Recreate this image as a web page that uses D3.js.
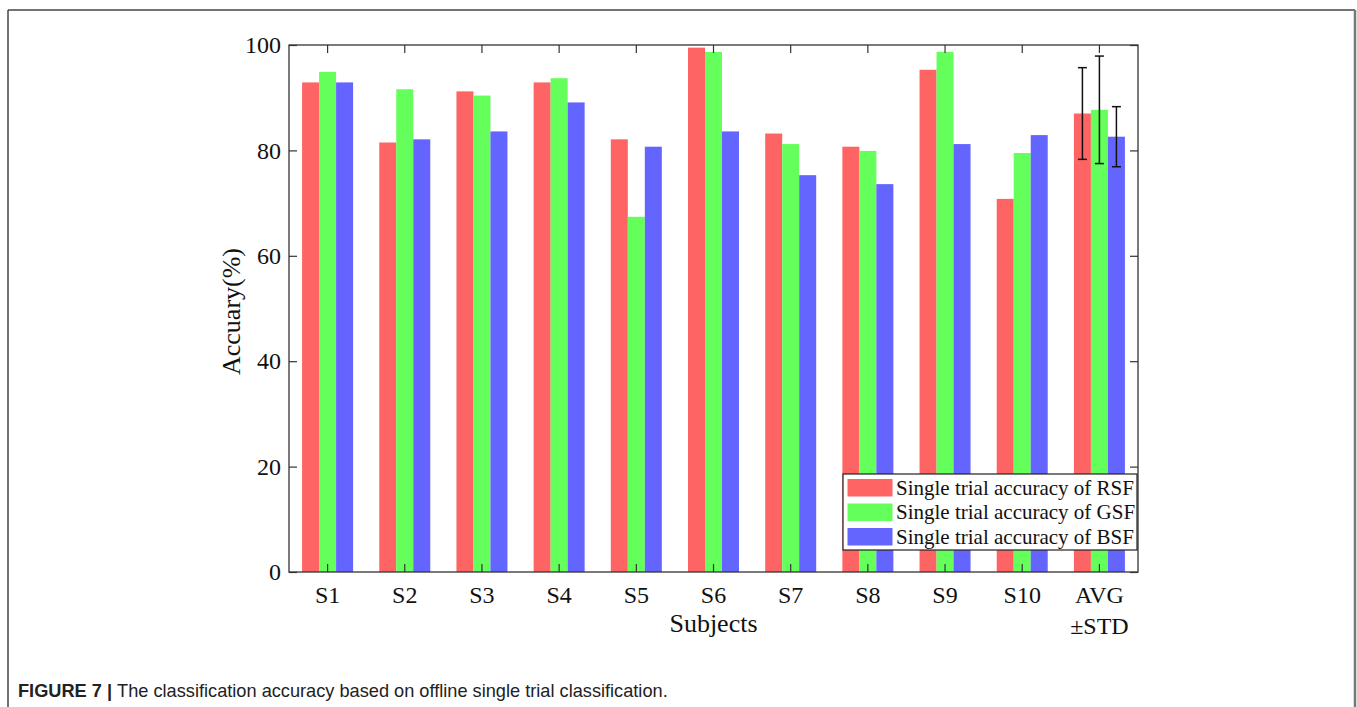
<!DOCTYPE html>
<html>
<head>
<meta charset="utf-8">
<script src="https://cdn.jsdelivr.net/npm/d3@7"></script>
<style>
  html, body { margin: 0; padding: 0; background: #fff; }
  svg { display: block; }
</style>
</head>
<body>
<svg id="chart" width="1357" height="707"></svg>
<script>
// Subjects on the x axis
const categories = ["S1", "S2", "S3", "S4", "S5", "S6", "S7", "S8", "S9", "S10", "AVG"];
const seriesNames = ["Single trial accuracy of RSF", "Single trial accuracy of GSF", "Single trial accuracy of BSF"];
// Accuracy (%) per subject; last entry is the mean over subjects
const rsf = [92.9, 81.5, 91.2, 92.9, 82.1, 99.5, 83.2, 80.7, 95.3, 70.8, 87.0];
const gsf = [94.9, 91.6, 90.4, 93.7, 67.4, 98.7, 81.2, 79.9, 98.7, 79.5, 87.7];
const bsf = [92.9, 82.1, 83.6, 89.1, 80.7, 83.6, 75.3, 73.6, 81.2, 82.9, 82.6];
// Standard deviation of the mean (AVG group)
const avgStd = [8.7, 10.2, 5.7];
const yTicks = [0, 20, 40, 60, 80, 100];
const colors = ["#ff6464", "#64ff5a", "#6464ff"];

const svg = d3.select("#chart");
const serif = "'Liberation Serif', 'Times New Roman', serif";

// Outer figure frame
svg.append("line").attr("x1", 8).attr("y1", 10).attr("x2", 1355).attr("y2", 10)
  .attr("stroke", "#444").attr("stroke-width", 1.5);
svg.append("line").attr("x1", 8).attr("y1", 10).attr("x2", 8).attr("y2", 707)
  .attr("stroke", "#444").attr("stroke-width", 1.5);
svg.append("line").attr("x1", 1355).attr("y1", 10).attr("x2", 1355).attr("y2", 707)
  .attr("stroke", "#777").attr("stroke-width", 2.5);

const plotL = 289, plotR = 1138, plotT = 45, plotB = 572;

const x0 = d3.scaleBand().domain(categories).range([plotL, plotR]).paddingInner(0).paddingOuter(0);
const groupW = 51;
const x1 = d3.scaleBand().domain(d3.range(3))
  .range([(x0.bandwidth() - groupW) / 2, (x0.bandwidth() + groupW) / 2]).padding(0);
const y = d3.scaleLinear().domain([0, 100]).range([plotB, plotT]);

const series = [rsf, gsf, bsf];

// Bars
const g = svg.append("g");
categories.forEach((c, i) => {
  series.forEach((s, k) => {
    g.append("rect")
      .attr("x", x0(c) + x1(k))
      .attr("y", y(s[i]))
      .attr("width", x1.bandwidth())
      .attr("height", y(0) - y(s[i]))
      .attr("fill", colors[k]);
  });
});

// Error bars on the AVG group
const capHalf = 4.5;
series.forEach((s, k) => {
  const i = categories.length - 1;
  const cx = x0(categories[i]) + x1(k) + x1.bandwidth() / 2;
  const hi = y(s[i] + avgStd[k]), lo = y(s[i] - avgStd[k]);
  const eg = svg.append("g").attr("stroke", "#111").attr("stroke-width", 1.5);
  eg.append("line").attr("x1", cx).attr("x2", cx).attr("y1", hi).attr("y2", lo);
  eg.append("line").attr("x1", cx - capHalf).attr("x2", cx + capHalf).attr("y1", hi).attr("y2", hi);
  eg.append("line").attr("x1", cx - capHalf).attr("x2", cx + capHalf).attr("y1", lo).attr("y2", lo);
});

// Axes box with inward ticks on all four sides
const tickLen = 8;
const axisColor = "#333";
const yLeft = d3.axisLeft(y).tickValues(yTicks).tickSizeInner(-tickLen).tickSizeOuter(0).tickPadding(8);
const yRight = d3.axisRight(y).tickValues(yTicks).tickSizeInner(-tickLen).tickSizeOuter(0).tickFormat("");
const xBottom = d3.axisBottom(x0).tickSizeInner(-tickLen).tickSizeOuter(0).tickFormat("");
const xTop = d3.axisTop(x0).tickSizeInner(-tickLen).tickSizeOuter(0).tickFormat("");

function styleAxis(sel) {
  sel.select(".domain").remove();
  sel.selectAll(".tick line").attr("stroke", axisColor).attr("stroke-width", 1.2);
  sel.selectAll("text").attr("font-family", serif).attr("font-size", 24).attr("fill", "#111");
}
svg.append("g").attr("transform", `translate(${plotL},0)`).call(yLeft).call(styleAxis);
svg.append("g").attr("transform", `translate(${plotR},0)`).call(yRight).call(styleAxis);
svg.append("g").attr("transform", `translate(0,${plotB})`).call(xBottom).call(styleAxis);
svg.append("g").attr("transform", `translate(0,${plotT})`).call(xTop).call(styleAxis);

svg.append("rect").attr("x", plotL).attr("y", plotT).attr("width", plotR - plotL).attr("height", plotB - plotT)
  .attr("fill", "none").attr("stroke", axisColor).attr("stroke-width", 1.3);

// Category labels (AVG carries a second line)
const xLabels = svg.append("g").attr("font-family", serif).attr("font-size", 24).attr("fill", "#111")
  .attr("text-anchor", "middle");
categories.forEach(c => {
  const cx = x0(c) + x0.bandwidth() / 2;
  xLabels.append("text").attr("x", cx).attr("y", 603).text(c);
});
xLabels.append("text").attr("x", x0("AVG") + x0.bandwidth() / 2).attr("y", 634).text("\u00B1STD");

// Axis titles
svg.append("text").attr("x", (plotL + plotR) / 2).attr("y", 632)
  .attr("text-anchor", "middle").attr("font-family", serif).attr("font-size", 26).attr("fill", "#111")
  .text("Subjects");
svg.append("text").attr("transform", `translate(240,${(plotT + plotB) / 2 + 3}) rotate(-90)`)
  .attr("text-anchor", "middle").attr("font-family", serif).attr("font-size", 26).attr("fill", "#111")
  .text("Accuary(%)");

// Legend
const lg = svg.append("g");
lg.append("rect").attr("x", 843).attr("y", 474).attr("width", 294).attr("height", 76)
  .attr("fill", "#fff").attr("stroke", "#222").attr("stroke-width", 1.2);
seriesNames.forEach((name, k) => {
  const ry = 479 + k * 24.5;
  lg.append("rect").attr("x", 847.5).attr("y", ry).attr("width", 45).attr("height", 17.5).attr("fill", colors[k]);
  lg.append("text").attr("x", 896).attr("y", ry + 15.5).attr("font-family", serif).attr("font-size", 21)
    .attr("fill", "#111").text(name);
});

// Figure caption
const cap = svg.append("text").attr("x", 18).attr("y", 697)
  .attr("font-family", "'Liberation Sans', Arial, sans-serif").attr("font-size", 18.2).attr("fill", "#222");
cap.append("tspan").attr("font-weight", "bold").text("FIGURE 7 | ");
cap.append("tspan").text("The classification accuracy based on offline single trial classification.");
</script>
</body>
</html>
